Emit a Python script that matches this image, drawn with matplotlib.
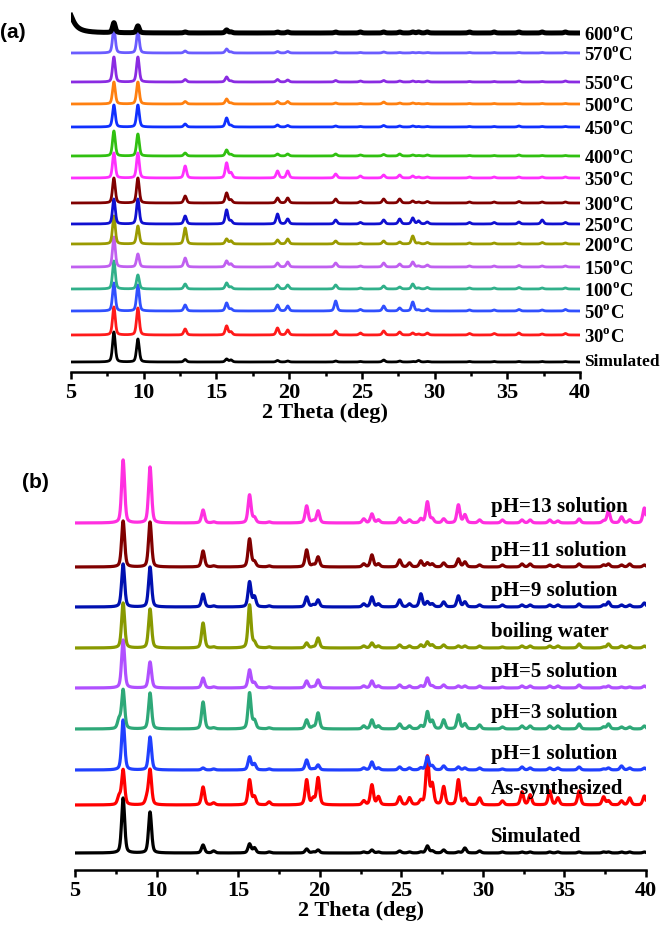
import numpy as np
import matplotlib
matplotlib.use('Agg')
import matplotlib.pyplot as plt
from matplotlib.ticker import MultipleLocator

plt.rcParams['mathtext.fontset'] = 'custom'
plt.rcParams['mathtext.rm'] = 'Liberation Serif:bold'
plt.rcParams['mathtext.bf'] = 'Liberation Serif:bold'

# ---- panel (a): thermal stability ----
POS_A = [7.95, 9.6, 12.85, 15.7, 16.0, 19.2, 19.9, 23.2, 24.9, 26.5, 27.6, 28.5, 28.9, 29.5, 32.4, 34.1, 35.8, 37.4, 39.0]

H_SIM_A = [30, 23, 2.5, 3, 2, 1.5, 1, 1, 0.5, 2, 1, 0.5, 1.5, 0.5, 0.5, 0.5, 0.5, 0.5, 0.5]
H_30 = [28, 27, 6, 9, 3, 7, 5, 4, 2, 4, 3, 2, 1, 2, 1.5, 1.5, 2, 1, 1.5]
H_50 = [28, 26, 6, 8, 2, 6, 5, 10, 1.5, 5, 3, 9, 1, 2, 1, 1, 1.5, 1, 1.5]
H_100 = [28, 14, 5, 6, 2, 4, 4, 4, 1, 3, 2, 5, 1, 1.5, 1, 1, 1.5, 1, 1]
H_150 = [30, 13, 9, 6, 3, 4, 5, 4, 1, 4, 3, 5, 1, 2, 1, 1, 1.5, 1, 1]
H_200 = [28, 18, 16, 5, 3, 4, 5, 3, 1, 3, 2, 8, 1, 1.5, 1, 1, 1, 1.5, 1]
H_250 = [25, 25, 8, 14, 3, 10, 5, 4, 1.5, 4, 5, 6, 3, 2, 1.5, 1.5, 2, 4, 1.5]
H_300 = [25, 25, 7, 10, 3, 5, 5, 4, 1.5, 4, 4, 2, 1, 1.5, 1, 1, 1.5, 1, 1]
H_350 = [25, 25, 12, 15, 5, 7, 7, 4, 2, 3, 3, 2, 1, 1, 1, 1, 1, 1, 1]
H_400 = [25, 22, 3, 6, 1.5, 2, 2, 2, 1, 1.5, 2, 1, 0.5, 1, 0.5, 0.5, 1, 0.5, 0.5]
H_450 = [22, 22, 3, 9, 1.5, 2, 1.5, 1, 0.5, 1.5, 1, 1, 0.5, 0.5, 0.5, 0.5, 1, 0.5, 0.5]
H_500 = [22, 22, 2.5, 5, 1, 2.5, 2.5, 1, 0.5, 2, 1, 1, 0.5, 0.5, 0.5, 0.5, 0.5, 0.5, 0.5]
H_550 = [25, 25, 2.5, 5, 1, 2.5, 2, 1.5, 1, 1.5, 1, 1, 0.5, 1, 0.5, 0.5, 1, 0.5, 1]
H_570 = [25, 22, 2, 4, 1, 1.5, 1.5, 1, 0.5, 1, 0.5, 0.5, 0.5, 0.5, 0.5, 0.5, 0.5, 0.5, 0.5]
H_600 = [10, 7, 1, 3, 1, 1, 1, 1, 1, 1, 1, 1, 1, 1, 1, 1, 1, 1, 1]

LABELS_A = ["Simulated", "30", "50", "100", "150", "200", "250", "300",
            "350", "400", "450", "500", "550", "570", "600"]
OFFSETS_A = [10, 37, 61, 83, 105, 128, 148, 169, 194, 216, 245, 268, 290, 319, 339]
COLORS_A = ["black", "#ff1a1a", "#3050ff", "#30b08a", "#c060f0", "#9a9a00",
            "#1010d0", "#800000", "#ff30ff", "#30c010", "#1030ff", "#ff8010",
            "#8a2be2", "#6a5cff", "black"]
HEIGHTS_A = [H_SIM_A, H_30, H_50, H_100, H_150, H_200, H_250, H_300,
             H_350, H_400, H_450, H_500, H_550, H_570, H_600]

# low-angle rise of the 600 C pattern (position, height, width)
HUMP_600 = (4.8, 22, 0.8)

# ---- panel (b): chemical stability ----
POS_B = [7.7, 7.95, 9.4, 9.6, 12.85, 13.5, 15.7, 16.0, 16.9, 19.2, 19.6, 19.9,
         22.7, 23.2, 23.6, 24.9, 25.5, 26.2, 26.6, 26.9, 27.6, 28.5, 28.9, 29.8,
         31.2, 32.4, 32.9, 34.1, 34.6, 35.9, 37.4, 37.7, 38.5, 39.0, 39.9]

H_SIM_B = [0, 55, 0, 41, 8, 2, 9, 5, 1, 4, 1, 3, 1, 3, 1, 2, 1, 1, 7, 2, 3, 1, 5, 2, 1, 1, 1, 1, 1, 1, 1, 1, 1, 1, 1]
H_ASSYN = [8, 35, 6, 35, 18, 2, 25, 8, 3, 25, 6, 27, 4, 20, 8, 8, 7, 4, 48, 20, 18, 25, 6, 7, 4, 13, 10, 14, 7, 14, 8, 4, 4, 7, 9]
H_PH1 = [0, 50, 0, 33, 2, 1, 13, 6, 1, 10, 1, 5, 2, 8, 2, 3, 2, 2, 13, 4, 4, 3, 2, 2, 1, 3, 2, 2, 2, 3, 1, 2, 4, 2, 2]
H_PH3 = [9, 39, 0, 36, 27, 1, 36, 8, 1, 9, 2, 16, 3, 9, 3, 5, 3, 3, 17, 8, 9, 14, 5, 4, 2, 3, 3, 3, 3, 5, 2, 5, 2, 2, 3]
H_PH5 = [0, 48, 0, 26, 10, 1, 18, 5, 1, 7, 1, 8, 2, 7, 2, 3, 2, 2, 10, 2, 3, 2, 2, 2, 1, 2, 2, 2, 2, 3, 1, 2, 1, 1, 2]
H_BOIL = [0, 45, 0, 39, 25, 1, 43, 5, 1, 5, 1, 10, 2, 5, 2, 3, 2, 3, 6, 3, 3, 2, 2, 2, 1, 2, 2, 2, 2, 4, 1, 4, 2, 2, 2]
H_PH9 = [0, 43, 0, 40, 13, 1, 25, 10, 1, 10, 2, 7, 3, 10, 3, 7, 3, 13, 5, 3, 5, 11, 5, 2, 2, 2, 2, 2, 2, 3, 2, 5, 2, 2, 4]
H_PH11 = [0, 46, 0, 45, 16, 1, 28, 5, 1, 17, 2, 10, 3, 12, 3, 7, 4, 6, 4, 3, 4, 8, 5, 2, 2, 3, 3, 2, 2, 3, 2, 3, 2, 3, 2]
H_PH13 = [0, 63, 0, 56, 13, 1, 28, 5, 1, 17, 2, 12, 4, 9, 3, 5, 3, 4, 21, 4, 4, 18, 8, 3, 3, 3, 3, 3, 2, 4, 2, 12, 6, 3, 15]

LABELS_B = ["Simulated", "As-synthesized", "pH=1 solution", "pH=3 solution",
            "pH=5 solution", "boiling water", "pH=9 solution", "pH=11 solution",
            "pH=13 solution"]
OFFSETS_B = [17, 65, 100, 141, 182, 222, 263, 303, 347]
COLORS_B = ["black", "#ff0000", "#2040ff", "#2ea878", "#b050ff", "#889900",
            "#0010b0", "#800000", "#ff30e0"]
HEIGHTS_B = [H_SIM_B, H_ASSYN, H_PH1, H_PH3, H_PH5, H_BOIL, H_PH9, H_PH11, H_PH13]


def pattern(x, positions, heights, fwhm=0.22, eta=0.4):
    y = np.zeros_like(x)
    g = fwhm / 2.3548
    for p, h in zip(positions, heights):
        gauss = np.exp(-0.5 * ((x - p) / g) ** 2)
        lor = 1.0 / (1.0 + ((x - p) / (fwhm / 2)) ** 2)
        y += h * ((1 - eta) * gauss + eta * lor)
    return y


def style_axis(ax, top):
    ax.set_xlim(5, 40)
    ax.set_ylim(0, top)
    for s in ["left", "right", "top"]:
        ax.spines[s].set_visible(False)
    ax.spines["bottom"].set_linewidth(1.8)
    ax.set_yticks([])
    ax.xaxis.set_major_locator(MultipleLocator(5))
    ax.xaxis.set_minor_locator(MultipleLocator(2.5))
    ax.tick_params(axis="x", which="major", direction="out", length=5, width=1.8, pad=3)
    ax.tick_params(axis="x", which="minor", direction="out", length=3, width=1.8)
    for lab in ax.get_xticklabels():
        lab.set_fontfamily("Liberation Serif")
        lab.set_fontweight("bold")
        lab.set_fontsize(16)
    ax.set_xlabel("2 Theta (deg)", fontfamily="Liberation Serif", fontweight="bold",
                  fontsize=16, labelpad=0)


fig = plt.figure(figsize=(6.67, 9.38), dpi=100)
H = 938.0
x = np.linspace(5, 40, 3500)

# panel (a)
ax1 = fig.add_axes([71 / 667, 1 - 372 / H, 509 / 667, 372 / H])
for lab, off, col, hts in zip(LABELS_A, OFFSETS_A, COLORS_A, HEIGHTS_A):
    y = pattern(x, POS_A, hts) + off
    lw = 2.0
    if lab == "600":
        y += pattern(x, [HUMP_600[0]], [HUMP_600[1]], fwhm=HUMP_600[2], eta=1.0)
        lw = 3.6
    ax1.plot(x, y, color=col, lw=lw)
    text = lab if lab == "Simulated" else lab + r"$^{\mathrm{o}}$C"
    ax1.text(40.3, off - 2 if lab != "Simulated" else off, text, ha="left", va="center",
             fontfamily="Liberation Serif", fontweight="bold",
             fontsize=13.5 if lab != "Simulated" else 12.5, clip_on=False)
style_axis(ax1, 372)
fig.text(0.0, 1 - 33 / H, "(a)", fontfamily="Liberation Sans", fontweight="bold",
         fontsize=15, va="center", ha="left")

# panel (b)
ax2 = fig.add_axes([75 / 667, 1 - 870 / H, 571 / 667, 415 / H])
for lab, off, col, hts in zip(LABELS_B, OFFSETS_B, COLORS_B, HEIGHTS_B):
    y = pattern(x, POS_B, hts, fwhm=0.22) + off
    ax2.plot(x, y, color=col, lw=2.3)
    ax2.text(30.5, off + 16, lab, ha="left", va="center",
             fontfamily="Liberation Serif", fontweight="bold", fontsize=15)
style_axis(ax2, 415)
fig.text(22 / 667, 1 - 482 / H, "(b)", fontfamily="Liberation Sans", fontweight="bold",
         fontsize=15, va="center", ha="left")

fig.savefig("out.png", dpi=100)
